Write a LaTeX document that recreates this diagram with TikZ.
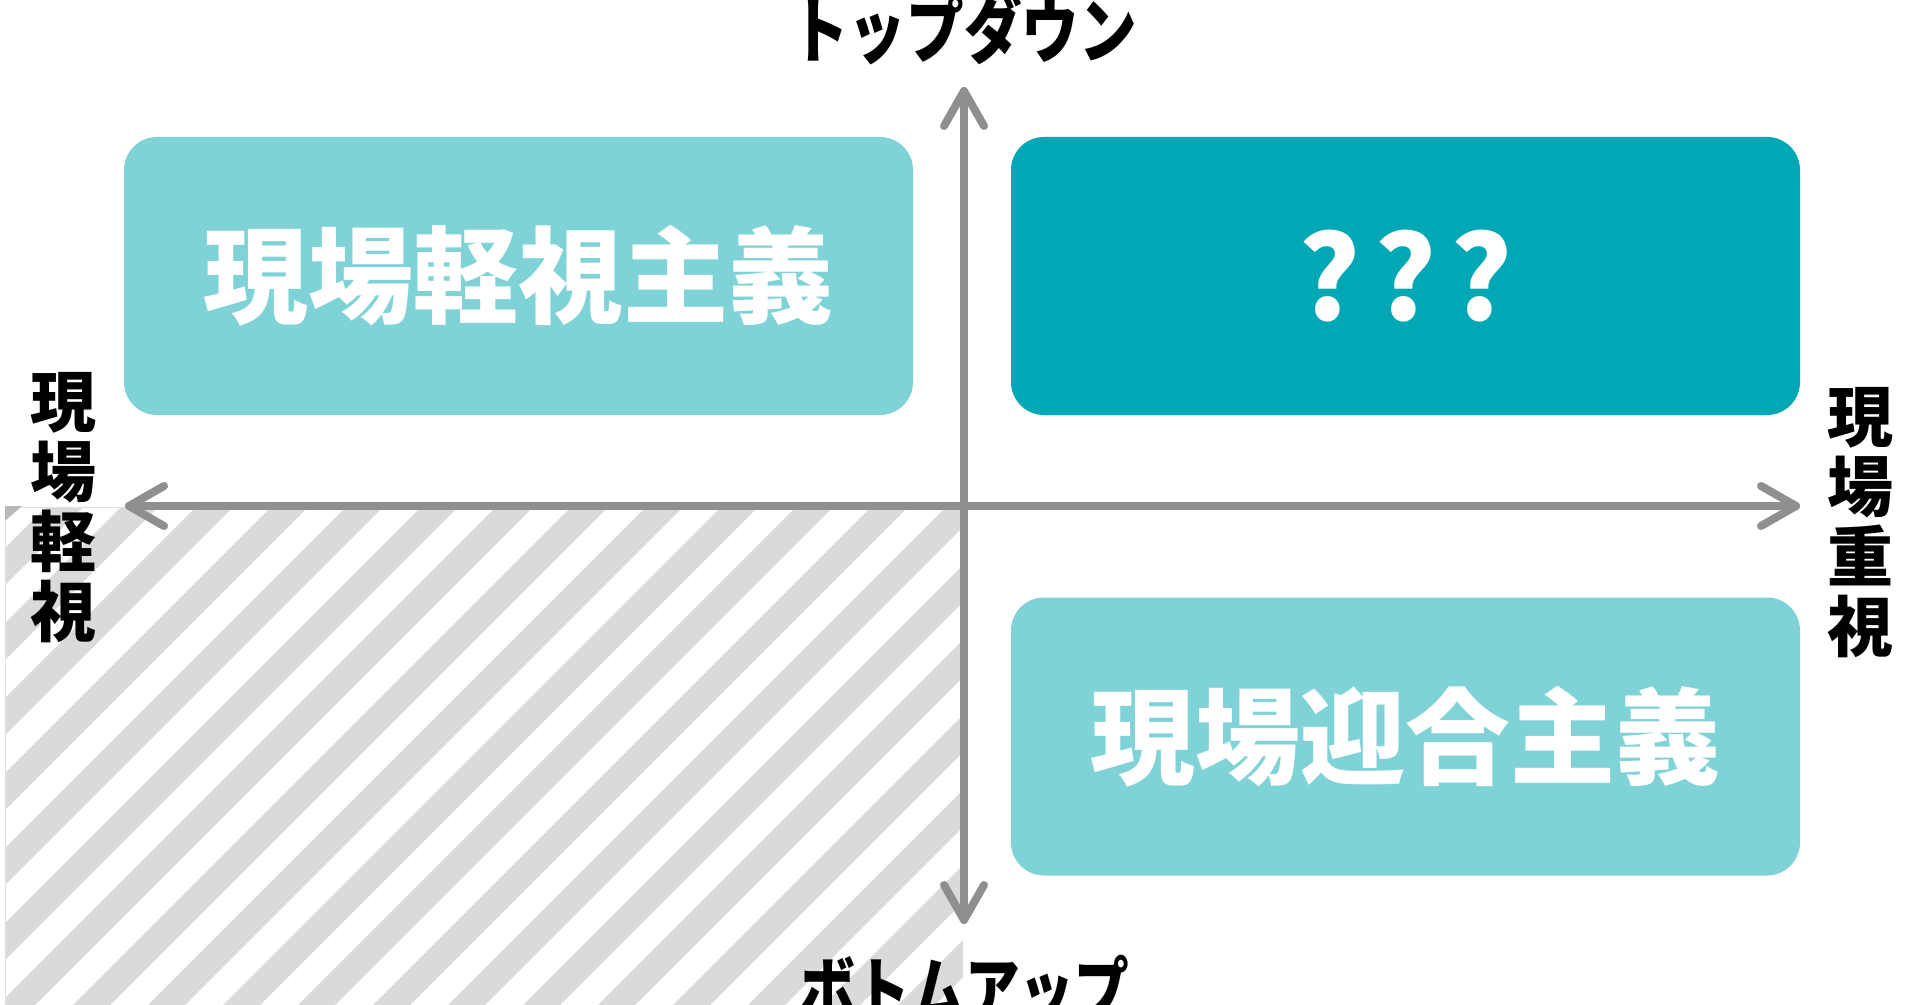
\documentclass[tikz,border=0pt]{standalone}
\usepackage{fontspec}
\newfontfamily\jp{Noto Sans CJK JP}
\usetikzlibrary{calc}
\definecolor{boxlight}{RGB}{127,211,215}
\definecolor{boxdark}{RGB}{0,167,180}
\definecolor{axisgray}{RGB}{143,143,143}
\definecolor{stripe}{RGB}{218,218,218}
\begin{document}
\begin{tikzpicture}[x=0.5pt,y=-0.5pt,
  quad/.style={rectangle,rounded corners=16.5pt,minimum width=394.5pt,minimum height=139pt,inner sep=0pt,text=white,font=\jp\bfseries\fontsize{52.5}{60}\selectfont},
  axis/.style={draw=axisgray,line width=4pt,line cap=round,line join=round},
  side/.style={font=\jp\bfseries\fontsize{33}{35}\selectfont,align=center,inner sep=0pt},
  endlabel/.style={font=\jp\bfseries\fontsize{36}{40}\selectfont,inner sep=0pt}]
\useasboundingbox (0,0) rectangle (1920,1005);
\fill[white] (0,0) rectangle (1920,1005);
% hatched quadrant
\begin{scope}
\clip (5,507) rectangle (963,1005);
\foreach \k in {-13,...,7}{
  \pgfmathsetmacro\a{1453+75*\k}
  \fill[stripe] (\a-400,400) -- (\a+37-400,400) -- (\a+37-1100,1100) -- (\a-1100,1100) -- cycle;
}
\end{scope}
\draw[gray!25,line width=0.3pt] (5,1005) -- (5,507) -- (963,507);
\fill[gray!55] (5,506) -- (22,506) -- (5,521) -- cycle;
% quadrant boxes
\node[quad,fill=boxlight] (q1) at (518.5,276) {現場軽視主義};
\node[quad,fill=boxdark] (q2) at (1405.5,276) {\fontsize{58}{60}\selectfont ?\hspace{7pt}?\hspace{7pt}?};
\node[quad,fill=boxlight] (q3) at (1405.5,736.5) {現場迎合主義};
% axes
\coordinate (top) at (964,91);
\coordinate (bot) at (964,920);
\coordinate (lft) at (129,506);
\coordinate (rgt) at (1796,506);
\draw[axis] (bot) -- (top);
\draw[axis] (lft) -- (rgt);
\draw[axis] ($(top)+(-20,35)$) -- (top) -- ($(top)+(20,35)$);
\draw[axis] ($(bot)+(-20,-35)$) -- (bot) -- ($(bot)+(20,-35)$);
\draw[axis] ($(lft)+(35,-20)$) -- (lft) -- ($(lft)+(35,20)$);
\draw[axis] ($(rgt)+(-35,-20)$) -- (rgt) -- ($(rgt)+(-35,20)$);
% labels
\node[endlabel,anchor=base] (td) at (964,58) {\scalebox{0.8}[1]{トップダウン}};
\node[endlabel,anchor=base] (bu) at (965,1017) {\scalebox{0.76}[1]{ボトムアップ}};
\node[side] (l) at (64,508) {現\\場\\軽\\視};
\node[side] (r) at (1860,523) {現\\場\\重\\視};
\end{tikzpicture}
\end{document}
